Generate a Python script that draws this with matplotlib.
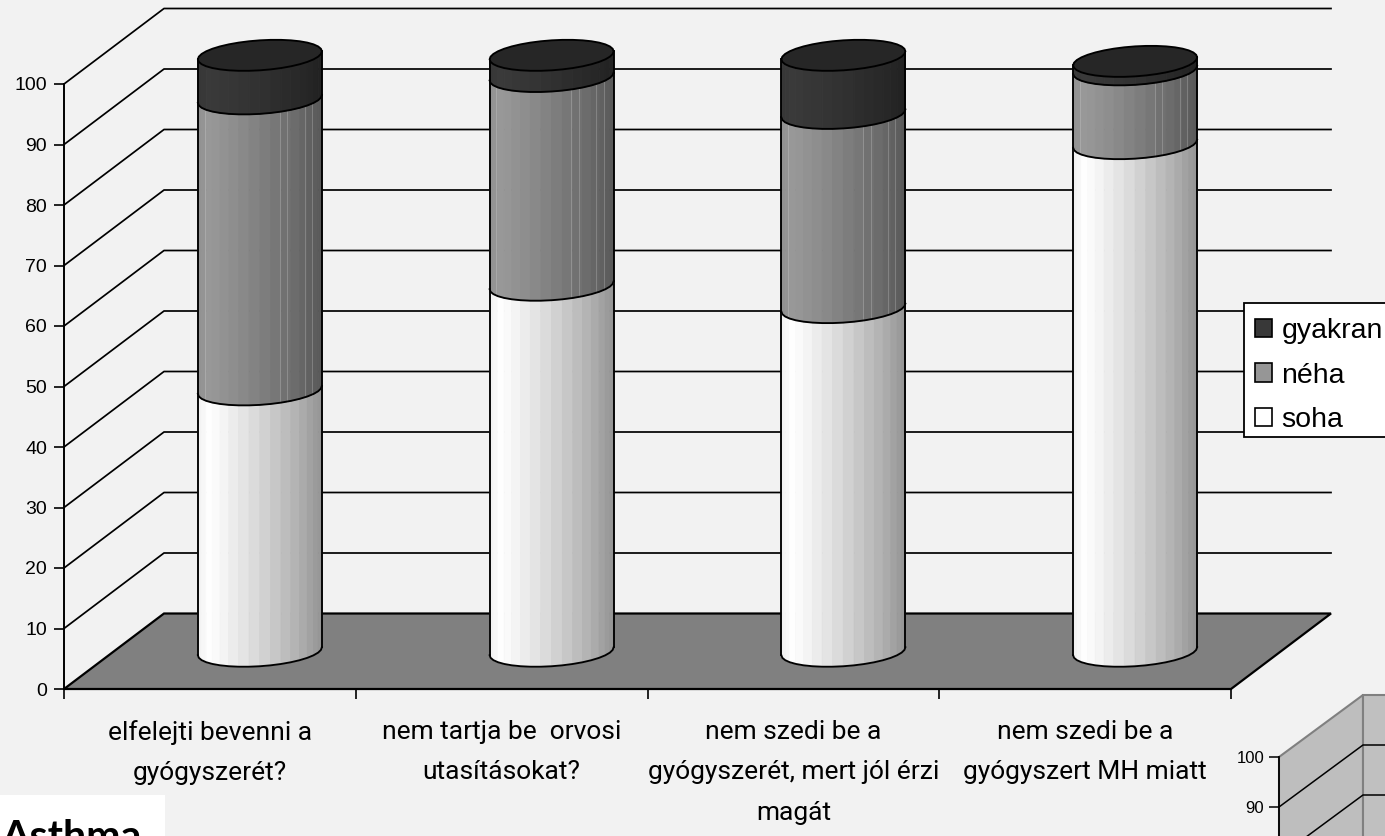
import numpy as np
import matplotlib
matplotlib.use("Agg")
import matplotlib.pyplot as plt
from matplotlib.patches import Patch, Polygon, Rectangle

W, H = 1385, 836
BG = "#f2f2f2"
CATEGORY_FONT = ["Roboto", "Liberation Sans", "DejaVu Sans"]
SANS = ["Liberation Sans", "DejaVu Sans"]

# Survey answers, percent of respondents per question
categories = [
    "elfelejti bevenni a\ngyógyszerét?",
    "nem tartja be  orvosi\nutasításokat?",
    "nem szedi be a\ngyógyszerét, mert jól érzi\nmagát",
    "nem szedi be a\ngyógyszert MH miatt",
]
soha = [43.2, 60.5, 56.8, 83.9]
neha = [48.1, 34.5, 32.1, 12.2]
gyakran = [7.2, 3.5, 9.6, 1.4]
value_ticks = list(range(0, 101, 10))
inset_ticks = [90, 100]
inset_grid = [80, 90]

series = [("soha", soha, 255), ("néha", neha, 153), ("gyakran", gyakran, 58)]

fig = plt.figure(figsize=(W / 100, H / 100), dpi=100, facecolor=BG)


def px_axes(x0, y0, x1, y1):
    """Axes placed by pixel corners (y measured from the top edge)."""
    return fig.add_axes([x0 / W, (H - y1) / H, (x1 - x0) / W, (y1 - y0) / H])


ax = px_axes(64, 84, 1231, 689)
ax.set_xlim(0, 4)
ax.set_ylim(0, 100)
ax.patch.set_visible(False)
px_x = 4 / 1167
px_y = 100 / 605
depth_x = 100 * px_x
depth_y = 75.5 * px_y
LW = 1.35

# Side wall and back wall gridlines
for v in value_ticks[1:]:
    ax.plot([0, depth_x, 4 + depth_x], [v, v + depth_y, v + depth_y],
            color="black", lw=1.25, clip_on=False, zorder=1)

# Floor of the 3D plot
floor = Polygon([(0, 0), (depth_x, depth_y), (4 + depth_x, depth_y), (4, 0)],
                closed=True, facecolor="#808080", edgecolor="black", lw=1.6,
                clip_on=False, zorder=2, joinstyle="miter")
ax.add_patch(floor)


def shade(u):
    return np.interp(u, [0, 0.1, 0.18, 0.5, 0.8, 1], [0.94, 1.0, 0.97, 0.84, 0.70, 0.58])


rx = 62 * px_x
ry = 15 * px_y
skew = 4 * px_y
angles = np.linspace(np.pi, 2 * np.pi, 19)
streaks = [0.055, 0.66, 0.72, 0.86, 0.92]


def rim(cx, level, t):
    return cx + rx * np.cos(t), level + depth_y / 2 + skew * np.cos(t) + ry * np.sin(t)


for i in range(len(categories)):
    cx = i + 0.5 + depth_x / 2
    base = 0.0
    for name, values, grey in series:
        top = base + values[i]
        xb, yb = rim(cx, base, angles)
        xt, yt = rim(cx, top, angles)
        for k in range(len(angles) - 1):
            u = (0.5 * (np.cos(angles[k]) + np.cos(angles[k + 1])) + 1) / 2
            g = min(1.0, grey / 255 * shade(u))
            ax.add_patch(Polygon(
                [(xb[k], yb[k]), (xb[k + 1], yb[k + 1]), (xt[k + 1], yt[k + 1]), (xt[k], yt[k])],
                closed=True, facecolor=(g, g, g), edgecolor=(g, g, g), lw=0.7,
                clip_on=False, zorder=3 + i))
        # Faint facet seams on the shaded side
        if grey == 153:
            for s in streaks:
                sx = cx - rx + 2 * rx * s
                t_s = np.arccos(2 * s - 1) * -1 + 2 * np.pi
                _, y0 = rim(cx, base, np.array([t_s]))
                _, y1 = rim(cx, top, np.array([t_s]))
                ax.plot([sx, sx], [y0[0], y1[0]], color="white", alpha=0.2, lw=0.7,
                        clip_on=False, zorder=3 + i)
        ax.plot(xb, yb, color="black", lw=LW, clip_on=False, zorder=3 + i)
        ax.plot([xb[0], xt[0]], [yb[0], yt[0]], color="black", lw=LW, clip_on=False, zorder=3 + i)
        ax.plot([xb[-1], xt[-1]], [yb[-1], yt[-1]], color="black", lw=LW, clip_on=False, zorder=3 + i)
        base = top
    # Cylinder cap
    full = np.linspace(0, 2 * np.pi, 37)
    xc, yc = rim(cx, base, full)
    ax.add_patch(Polygon(np.column_stack([xc, yc]), closed=True, facecolor="#262626",
                         edgecolor="black", lw=LW, clip_on=False, zorder=3 + i))

# Value axis and category axis
for side in ("top", "right"):
    ax.spines[side].set_visible(False)
for side in ("left", "bottom"):
    ax.spines[side].set_linewidth(1.4)
    ax.spines[side].set_zorder(2.5)
ax.set_yticks(value_ticks)
ax.tick_params(axis="y", length=7.2, width=1.2, pad=5, labelsize=14)
ax.set_xticks(range(5))
ax.set_xticklabels([])
ax.tick_params(axis="x", which="major", length=7.2, width=1.2)
ax.set_xticks(np.arange(4) + 0.5, minor=True)
ax.set_xticklabels(categories, minor=True, family=CATEGORY_FONT, fontsize=19, linespacing=1.85)
ax.tick_params(axis="x", which="minor", length=0, pad=22.5)
for lab in ax.get_yticklabels():
    lab.set_family(SANS)

# Legend, running past the right edge of the figure
fig.patches.append(Rectangle((1244 / W, (H - 437) / H), 160 / W, 134 / H,
                             transform=fig.transFigure, facecolor="white",
                             edgecolor="black", lw=1.3, zorder=19))
handles = [Patch(facecolor="#383838", edgecolor="black", lw=1.2),
           Patch(facecolor="#969696", edgecolor="black", lw=1.2),
           Patch(facecolor="white", edgecolor="black", lw=1.2)]
leg = fig.legend(handles, ["gyakran", "néha", "soha"], loc="upper left",
                 bbox_to_anchor=(1255 / W, (H - 318) / H), borderaxespad=0,
                 frameon=False, borderpad=0,
                 handlelength=0.6, handleheight=0.6, handletextpad=0.33,
                 labelspacing=0.65,
                 prop={"family": SANS, "size": 20.5})
leg.set_zorder(20)

# Corner of a second chart, cut off by the figure edge
inset = px_axes(1279, 757, 1460, 907)
inset.set_xlim(0, 181)
inset.set_ylim(70, 100)
inset.patch.set_visible(False)
back_x = 84
back_y = 62 / 5
edge = "#808080"
inset.add_patch(Polygon([(0, 70), (0, 100), (back_x, 100 + back_y), (back_x, 70)], closed=True,
                        facecolor="#bebebe", edgecolor=edge, lw=1.5, clip_on=False, zorder=1))
inset.add_patch(Rectangle((back_x, 70), 200, 30 + back_y, facecolor="#c0c0c0", edgecolor=edge,
                          lw=1.5, clip_on=False, zorder=1))
for v in inset_grid:
    inset.plot([0, back_x, 200], [v, v + back_y, v + back_y], color="black", lw=1.1,
               clip_on=False, zorder=2)
for side in ("top", "right", "bottom"):
    inset.spines[side].set_visible(False)
inset.spines["left"].set_linewidth(1.3)
inset.spines["left"].set_zorder(3)
inset.set_xticks([])
inset.set_yticks(inset_ticks)
inset.tick_params(axis="y", length=7.2, width=1.1, pad=3.5, labelsize=12)
for lab in inset.get_yticklabels():
    lab.set_family(SANS)

# Slide caption box, partly off the bottom edge
fig.patches.append(Rectangle((0, 0), 165 / W, (H - 795) / H, transform=fig.transFigure,
                             facecolor="white", edgecolor="none", zorder=5))
fig.text(1 / W, (H - 849) / H, "Asthma", family=["Lato", "DejaVu Sans"], fontweight="bold",
         fontsize=29.5, color="black", ha="left", va="baseline", zorder=6)

fig.savefig("out.png", dpi=100, facecolor=BG)
